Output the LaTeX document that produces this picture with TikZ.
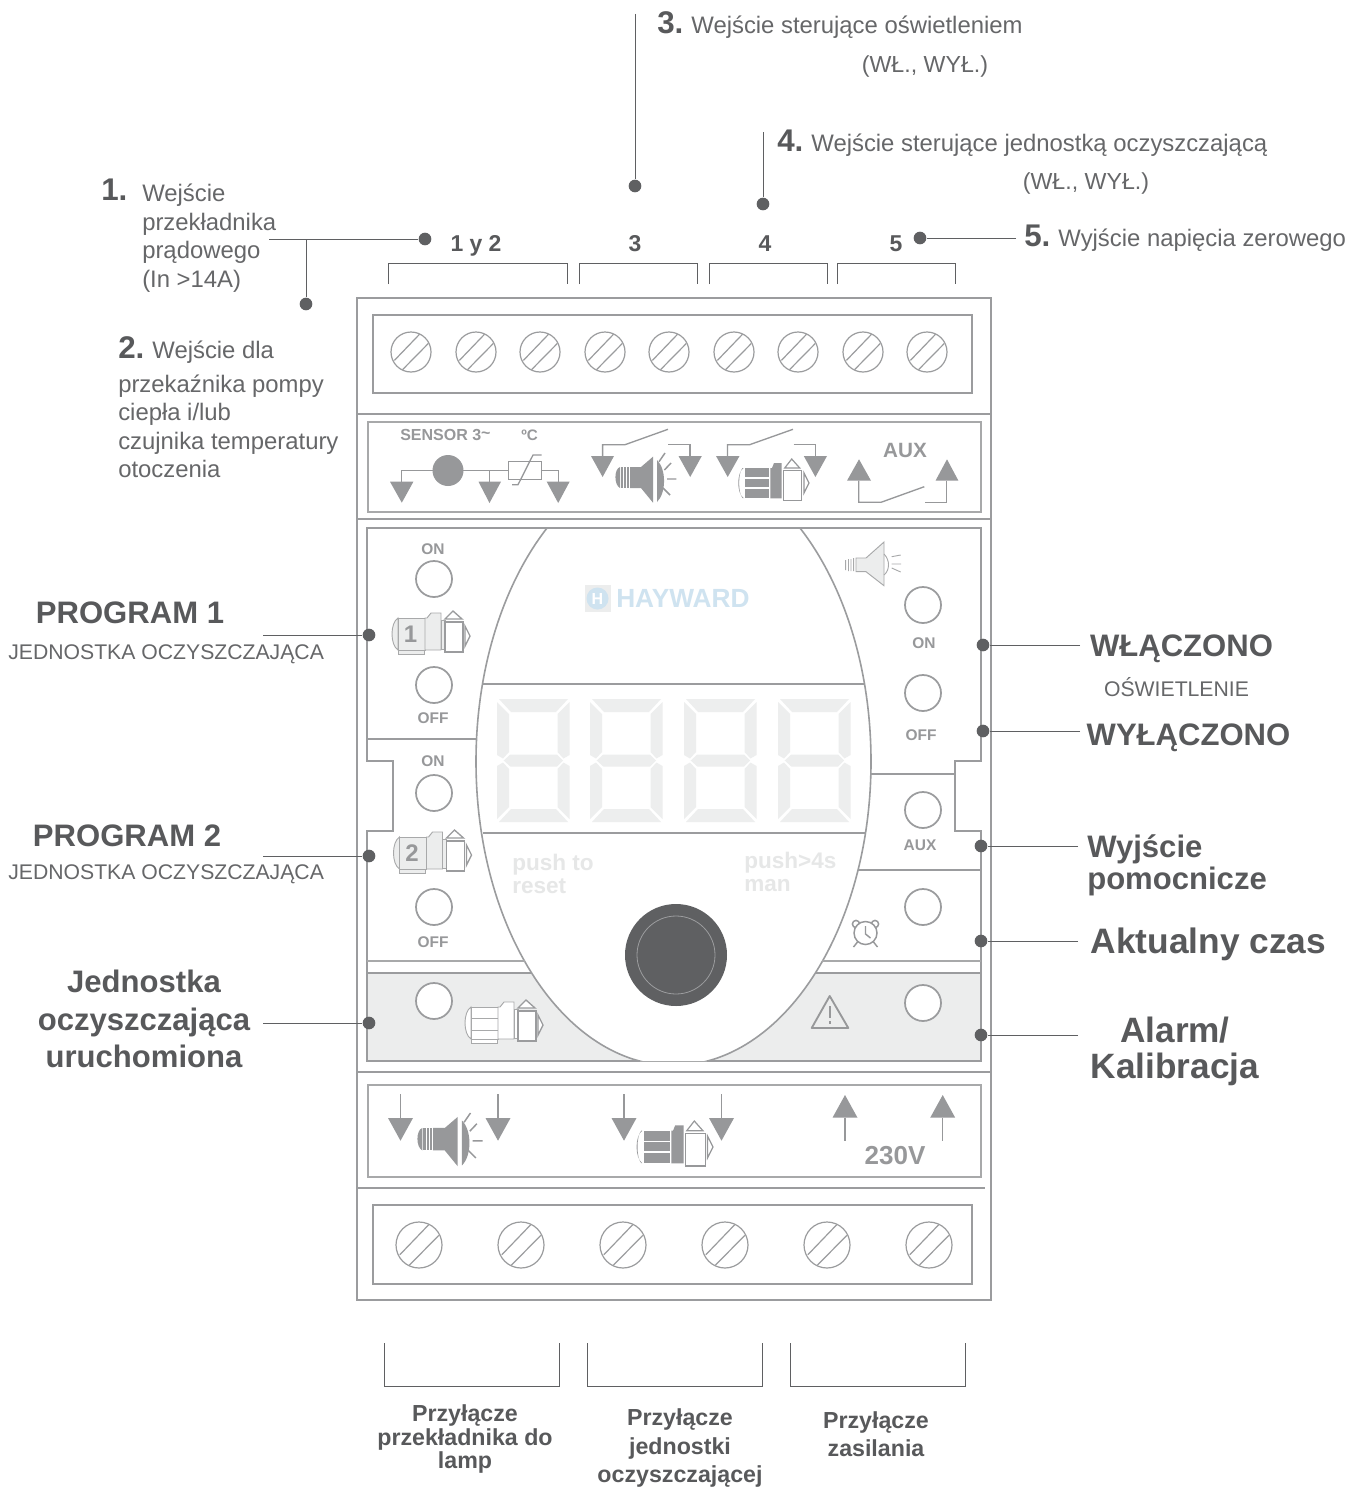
\documentclass[tikz,border=0pt]{standalone}
\usepackage{fontspec}
\setmainfont{Liberation Sans}
\usetikzlibrary{calc}
\definecolor{framec}{HTML}{9B9C9E}
\definecolor{thinc}{HTML}{A8A9AA}
\definecolor{dark}{HTML}{5F6062}
\definecolor{txt}{HTML}{58595B}
\definecolor{txtl}{HTML}{666769}
\definecolor{band}{HTML}{ECEDED}
\definecolor{seg}{HTML}{EDEEEE}
\definecolor{icon}{HTML}{97989A}
\definecolor{logob}{HTML}{CFE3F0}
\definecolor{ghost}{HTML}{E6E7E7}
\tikzset{
 framel/.style={draw=framec,line width=2.1pt},
 panel/.style={draw=thinc,line width=1pt},
 innerl/.style={draw=framec,line width=1.2pt},
 btn/.style={draw=framec,line width=1.3pt},
 scr/.style={draw=framec,line width=0.9pt},
 leader/.style={draw=dark,line width=0.6pt},
 brk/.style={draw=dark,line width=0.5pt},
 dotn/.style={circle,fill=dark,inner sep=0,minimum size=9.5pt},
 wire/.style={draw=icon,line width=1pt},
 headf/.style={fill=icon},
 seglook/.style={fill=seg},
 lab/.style={inner sep=0,text=txt},
 bodyt/.style={lab,text=txtl,font=\fontsize{17.9}{21.4}\selectfont,align=left},
 headt/.style={lab,font=\fontsize{23.3}{28}\selectfont\bfseries,align=center},
 capt/.style={lab,font=\fontsize{17.2}{21}\selectfont\bfseries,align=center},
 sm/.style={inner sep=0,text=icon,font=\fontsize{11.6}{13}\selectfont\bfseries},
 ghosty/.style={inner sep=0,text=ghost,font=\fontsize{16.9}{17.2}\selectfont\bfseries,align=left},
}
\newcommand{\numb}[1]{{\fontsize{23.5}{22}\selectfont\bfseries\color{txt} #1}}
\newcommand{\screw}[3]{%
 \draw[scr] (#1,#2) circle[radius=#3];
 \draw[scr] ($(#1,#2)+(-0.83*#3,0.42*#3)$) -- ($(#1,#2)+(0.42*#3,-0.88*#3)$);
 \draw[scr] ($(#1,#2)+(-0.42*#3,0.88*#3)$) -- ($(#1,#2)+(0.86*#3,-0.42*#3)$);}
\newcommand{\sevenseg}[1]{\begin{scope}[shift={(#1,760.5)}]
 \fill[seglook] (2,-61.5)--(71,-61.5)--(59,-48.5)--(14,-48.5)--cycle;
 \fill[seglook] (2,61.5)--(71,61.5)--(59,48.5)--(14,48.5)--cycle;
 \fill[seglook] (0,-58.5)--(12,-46.5)--(12,-8.5)--(6,-2)--(0,-5.5)--cycle;
 \fill[seglook] (72.5,-58.5)--(60.5,-46.5)--(60.5,-8.5)--(66.5,-2)--(72.5,-5.5)--cycle;
 \fill[seglook] (0,58.5)--(12,46.5)--(12,8.5)--(6,2)--(0,5.5)--cycle;
 \fill[seglook] (72.5,58.5)--(60.5,46.5)--(60.5,8.5)--(66.5,2)--(72.5,5.5)--cycle;
 \fill[seglook] (6.7,0)--(13.3,-6)--(60,-6)--(66,0)--(60,6)--(13.3,6)--cycle;
 \end{scope}}
\newcommand{\lightmotor}[3]{\begin{scope}[shift={(#1,#2)},draw=thinc,line width=0.7pt]
 \draw[fill=#3] (6,7) .. controls (-2,12) and (-2,34) .. (6,39) -- cycle;
 \draw[fill=#3] (6,39) rectangle (32,43);
 \draw[fill=#3] (6,7) rectangle (33,39);
 \draw[fill=#3] (35,7) -- (39,2) -- (49,2) -- (49,39) -- (33,39) -- (33,7) -- cycle;
 \draw[fill=#3] (49,9) rectangle (53,38);
 \draw[fill=white,draw=framec,line width=1pt] (53,11) rectangle (71,41);
 \draw[fill=white,draw=framec,line width=1pt] (53,8) -- (61,0) -- (70,8) -- cycle;
 \draw[fill=white,draw=framec,line width=1pt] (73,15) -- (78,25) -- (73,35) -- cycle;
 \end{scope}}
\newcommand{\darkmotor}[3]{\begin{scope}[shift={(#1,#2)},scale=#3]
 \fill[icon] (5.5,9) .. controls (-1.5,14) and (-1.5,34) .. (5.5,39) -- (4.5,39) .. controls (0,34) and (0,14) .. (4.5,9) -- cycle;
 \fill[icon] (6.7,9) rectangle (30.8,18.2);
 \fill[icon] (6.7,19.8) rectangle (30.8,28.2);
 \fill[icon] (6.7,29.8) rectangle (30.8,39.3);
 \fill[icon] (32.4,39.3) -- (32.4,9) -- (34,9) -- (36,4) -- (43.7,4) -- (43.7,39.3) -- cycle;
 \draw[draw=icon,line width=0.9pt,fill=white] (45.7,11.7) rectangle (63.8,41.7);
 \draw[draw=icon,line width=0.9pt,fill=white] (46.7,9) -- (53.7,0) -- (61.7,9) -- cycle;
 \draw[draw=icon,line width=0.9pt,fill=white] (66,14) -- (71,24) -- (66,34) -- cycle;
 \end{scope}}
\newcommand{\darkspeaker}[3]{\begin{scope}[shift={(#1,#2)},scale=#3]
 \fill[icon] (4.6,14) .. controls (-1.5,16) and (-1.5,32) .. (4.6,35) -- cycle;
 \fill[icon] (5.6,14) rectangle (7.6,35);
 \fill[icon] (8.6,14) rectangle (10.6,35);
 \fill[icon] (11.6,14) rectangle (13.6,35);
 \fill[icon] (14.6,14) -- (25.6,14) -- (37.6,3.7) -- (37.6,49.7) -- (25.6,35) -- (14.6,35) -- cycle;
 \fill[icon] (41.6,7) .. controls (51,16) and (51,40) .. (41.6,49) -- cycle;
 \draw[wire,line width=1.1pt] (43.6,8.7) -- (49.6,0) (49,17) -- (55.6,10) (51.6,26) -- (61,26) (47.6,35) -- (54.6,42);
 \end{scope}}
\begin{document}
\begin{tikzpicture}[x=0.75pt,y=-0.75pt]
\useasboundingbox (0,0) rectangle (1359,1488);
\fill[white] (0,0) rectangle (1359,1488);
% --- housing
\draw[framel] (357,298) rectangle (991,1300);
\draw[framel] (373,315) rectangle (972,393);
\draw[framel] (357,414) -- (991,414);
\draw[framel] (357,519) -- (991,519);
\draw[panel] (368,422) rectangle (981,512);
\draw[framel] (357,1072) -- (991,1072);
\draw[panel] (368,1085) rectangle (981,1177);
\draw[framel] (357,1188) -- (985,1188);
\draw[framel] (373,1205) rectangle (972,1284);
\foreach \sx in {411,476,540,605,669,734,798,863,927} {\screw{\sx}{352}{20}}
\foreach \sx in {419,521,623,725,827,929} {\screw{\sx}{1245}{23}}
% --- front panel
\fill[band] (367,973) rectangle (981,1061);
\begin{scope}
 \clip (367,528) rectangle (981,1061);
 \fill[white] (673.5,761.5) ellipse[x radius=197.5,y radius=304];
 \draw[innerl] (673.5,761.5) ellipse[x radius=197.5,y radius=304];
\end{scope}
\draw[innerl] (548,528) -- (367,528) -- (367,739) -- (367,761) -- (393,761) -- (393,831) -- (367,831) -- (367,1061) -- (640,1061);
\draw[innerl] (799,528) -- (981,528) -- (981,761) -- (955,761) -- (955,831) -- (981,831) -- (981,1061) -- (707,1061);
\draw[innerl] (548,528) -- (799,528);
\draw[thinc,line width=0.5pt] (640,1061) -- (707,1061);
\draw[innerl] (367,739) -- (476,739);
\draw[innerl] (482,684) -- (865,684);
\draw[innerl] (483,833) -- (866,833);
\draw[innerl] (871,774) -- (955,774);
\draw[innerl] (858,870) -- (981,870);
\draw[thinc,line width=0.8pt] (367,961) -- (525,961) (822,961) -- (981,961);
\draw[innerl] (367,973) -- (532,973) (815,973) -- (981,973);
\foreach \bx/\by in {434/579,434/685,434/793,434/907,923/605,923/693,923/810,923/907}
 {\draw[btn] (\bx,\by) circle[radius=18];}
\foreach \bx/\by in {434/1001,923/1003}
 {\draw[btn,fill=white] (\bx,\by) circle[radius=18];}
\foreach \dx in {497,590,684,778} {\sevenseg{\dx}}
% logo
\fill[band] (585,585) rectangle (611,612);
\fill[logob] (597.5,598.5) circle[radius=11];
\node[inner sep=0,text=white,font=\fontsize{12}{12}\selectfont\bfseries] (logoh) at (597.5,598.5) {H};
\node[inner sep=0,anchor=west,text=logob,font=\fontsize{19.7}{20}\selectfont\bfseries] (logo) at (616,598.5) {HAYWARD};
\node[ghosty,anchor=west] (push) at (512,873.5) {push to\\reset};
\node[ghosty,anchor=west] (pushb) at (744,872) {push>4s\\man};
\fill[dark] (676,955) circle[radius=51];
\draw[framec,line width=0.6pt] (676,955) circle[radius=39];
% panel labels
\node[sm] (on1) at (433,549) {ON};
\node[sm] (off1) at (433,718) {OFF};
\node[sm] (on2) at (433,761) {ON};
\node[sm] (off2) at (433,942) {OFF};
\node[sm] (on3) at (924,643) {ON};
\node[sm] (off3) at (921,735) {OFF};
\node[sm] (aux) at (920,845) {AUX};
\lightmotor{392}{611}{band}
\lightmotor{393.5}{830}{band}
\lightmotor{465}{1000}{white}
\draw[thinc,line width=0.7pt] (471,1018) -- (498,1018) (471,1030) -- (498,1030);
\node[inner sep=0,text=icon,font=\fontsize{18}{18}\selectfont\bfseries] (n1) at (410.5,634) {1};
\node[inner sep=0,text=icon,font=\fontsize{18}{18}\selectfont\bfseries] (n2) at (412,853) {2};
% light speaker
\draw[thinc,line width=0.7pt,fill=band] (856,558) -- (866,558) -- (884,542) -- (884,585.7) -- (866,571.7) -- (856,571.7) -- cycle;
\draw[thinc,line width=0.7pt] (845.7,560) -- (845.7,570) (848.5,559) -- (848.5,571) (851,559) -- (851,571) (853.7,558) -- (853.7,571)
 (884,554) .. controls (890,560) and (890,570) .. (884,575)
 (891.7,556.7) -- (900.7,555) (891.7,564) -- (901,564) (891.7,568) -- (900.7,572);
% clock
\draw[icon,line width=1.1pt] (856,924) circle[radius=3.6];
\draw[icon,line width=1.1pt] (875,924) circle[radius=3.6];
\draw[icon,line width=1.1pt,fill=white] (865.5,933) circle[radius=11.5];
\draw[icon,line width=1.1pt] (865.5,926) -- (865.5,934) -- (870.5,938);
\draw[icon,line width=1.1pt] (857.5,942) -- (853.5,947) (873.5,942) -- (877.5,947);
% warning
\draw[icon,line width=1.4pt,line join=round,fill=band] (829.7,996) -- (848.3,1028) -- (811.7,1028) -- cycle;
\fill[icon] (828.6,1006) rectangle (830.8,1018);
\fill[icon] (828.6,1020.5) rectangle (830.8,1023.5);
% --- top legend
\node[sm,anchor=west,font=\fontsize{12}{12}\selectfont\bfseries] (sens) at (400,435) {SENSOR 3\raisebox{0.2ex}{\textasciitilde}};
\node[sm,anchor=west,font=\fontsize{11.4}{12}\selectfont\bfseries] (degc) at (521,435) {ºC};
\fill[headf] (390,481.7) -- (413.4,481.7) -- (401.8,502.7) -- cycle;
\fill[headf] (478.5,481.7) -- (501,481.7) -- (489.5,503) -- cycle;
\fill[headf] (546.7,481.7) -- (569.6,481.7) -- (558.2,503) -- cycle;
\draw[wire] (401.8,481.7) -- (401.8,470.7) -- (508.6,470.7);
\fill[icon] (448,470.5) circle[radius=15.5];
\draw[wire] (489.3,470.7) -- (489.3,481.7);
\draw[wire] (508.6,461.7) rectangle (541.5,479.3);
\draw[wire] (512,484.7) -- (518,484.7) -- (533,455) -- (541.5,455);
\draw[wire] (541.5,470.7) -- (558.4,470.7) -- (558.4,481.7);
\fill[headf] (591,456) -- (614,456) -- (602.6,477) -- cycle;
\fill[headf] (678.5,456) -- (701.8,456) -- (690.2,477) -- cycle;
\draw[wire] (602.6,456) -- (602.6,444.7) -- (625,444.7) -- (668,429.3);
\draw[wire] (668.4,444.7) -- (690,444.7) -- (690,456);
\darkspeaker{615.4}{453}{1}
\fill[headf] (716,456) -- (739.5,456) -- (727.7,477) -- cycle;
\fill[headf] (803.8,456) -- (827,456) -- (815.4,477) -- cycle;
\draw[wire] (727.5,456) -- (727.5,444.7) -- (749.6,444.7) -- (793,429.3);
\draw[wire] (793.7,444.7) -- (815.8,444.7) -- (815.8,456);
\darkmotor{738}{459}{1}
\fill[headf] (847,480.7) -- (871,480.7) -- (859,459.3) -- cycle;
\fill[headf] (935.5,480.7) -- (958.4,480.7) -- (947,459.3) -- cycle;
\draw[wire] (858.8,480.7) -- (858.8,502.3) -- (881,502.3) -- (924.3,486.7);
\draw[wire] (925,502.3) -- (946.7,502.3) -- (946.7,480.7);
\node[inner sep=0,text=icon,font=\fontsize{15.5}{16}\selectfont\bfseries] (auxb) at (905,450) {AUX};
% --- bottom legend
\foreach \ax in {400.5,498,624,721.5} {
 \fill[headf] (\ax-12.5,1118) -- (\ax+12.5,1118) -- (\ax,1140.7) -- cycle;
 \draw[wire] (\ax,1094) -- (\ax,1118);
}
\foreach \ax in {845,942.7} {
 \fill[headf] (\ax-12.5,1117.7) -- (\ax+12.5,1117.7) -- (\ax,1095) -- cycle;
 \draw[wire] (\ax,1117.7) -- (\ax,1140.7);
}
\darkspeaker{417.4}{1113}{1.07}
\darkmotor{636.3}{1121}{1.08}
\node[inner sep=0,text=icon,font=\fontsize{19.5}{20}\selectfont\bfseries] (v230) at (895,1156) {230V};
% --- dots and leaders
\coordinate (l1) at (269,239);
\coordinate (l2) at (306,239);
\coordinate (l3) at (635,14);
\coordinate (l4) at (763,132);
\coordinate (l5) at (1016,238);
\coordinate (lp1) at (263,635);
\coordinate (lp2) at (263,856);
\coordinate (lj) at (263,1023);
\coordinate (lon) at (1080,645);
\coordinate (loff) at (1080,731);
\coordinate (lw) at (1078,846);
\coordinate (lc) at (1078,941);
\coordinate (la) at (1078,1035);
\node[dotn] (d1) at (425,239) {};
\node[dotn] (d2) at (306,304) {};
\node[dotn] (d3) at (635,186) {};
\node[dotn] (d4) at (763,204) {};
\node[dotn] (d5) at (920,238) {};
\node[dotn] (dp1) at (369,635) {};
\node[dotn] (dp2) at (369,856) {};
\node[dotn] (dj) at (369,1023) {};
\node[dotn] (don) at (983,645) {};
\node[dotn] (doff) at (983,731) {};
\node[dotn] (dw) at (981,846) {};
\node[dotn] (dc) at (981,941) {};
\node[dotn] (da) at (981,1035) {};
\foreach \pa/\pb in {l1/d1,l2/d2,l3/d3,l4/d4,l5/d5,lp1/dp1,lp2/dp2,lj/dj,lon/don,loff/doff,lw/dw,lc/dc,la/da}
 {\draw[leader] (\pa) -- (\pb);}
% --- brackets
\draw[brk] (388,284) -- (388,263) -- (567,263) -- (567,284);
\draw[brk] (579,284) -- (579,263) -- (697,263) -- (697,284);
\draw[brk] (709,284) -- (709,263) -- (827,263) -- (827,284);
\draw[brk] (837,284) -- (837,263) -- (955,263) -- (955,284);
\draw[brk] (384,1343) -- (384,1386) -- (559,1386) -- (559,1343);
\draw[brk] (587,1343) -- (587,1386) -- (762,1386) -- (762,1343);
\draw[brk] (790,1343) -- (790,1386) -- (965,1386) -- (965,1343);
% --- texts
\node[bodyt,anchor=base west] (t3) at (657,34) {\numb{3.}\hspace{6pt}Wejście sterujące oświetleniem};
\node[bodyt,anchor=base,font=\fontsize{17.4}{21}\selectfont] (t3b) at (925,73) {(WŁ., WYŁ.)};
\node[bodyt,anchor=base west] (t4) at (777,151) {\numb{4.}\hspace{6pt}Wejście sterujące jednostką oczyszczającą};
\node[bodyt,anchor=base,font=\fontsize{17.4}{21}\selectfont] (t4b) at (1086,189) {(WŁ., WYŁ.)};
\node[bodyt,anchor=base west] (t5) at (1024,246) {\numb{5.}\hspace{6pt}Wyjście napięcia zerowego};
\node[bodyt,anchor=base west] (t1n) at (101,200) {\numb{1.}};
\node[bodyt,anchor=west] (t1) at (142,238) {Wejście\\przekładnika\\prądowego\\(In >14A)};
\node[bodyt,anchor=base west] (t2n) at (118,358) {\numb{2.}\hspace{6pt}Wejście dla};
\node[bodyt,anchor=west] (t2) at (118,426.5) {przekaźnika pompy\\ciepła i/lub\\czujnika temperatury\\otoczenia};
\node[capt,anchor=base] (c12) at (476,251) {1 y 2};
\node[capt,anchor=base] (c3) at (635,251) {3};
\node[capt,anchor=base] (c4) at (765,251) {4};
\node[capt,anchor=base] (c5) at (896,251) {5};
\node[headt,anchor=base] (p1) at (130,623) {PROGRAM 1};
\node[bodyt,anchor=base west,font=\fontsize{15.9}{19}\selectfont] (j1) at (8,659) {JEDNOSTKA OCZYSZCZAJĄCA};
\node[headt,anchor=base] (p2) at (127,846) {PROGRAM 2};
\node[bodyt,anchor=base west,font=\fontsize{15.9}{19}\selectfont] (j2) at (8,879) {JEDNOSTKA OCZYSZCZAJĄCA};
\node[headt] (jou) at (144,1019) {Jednostka\\oczyszczająca\\uruchomiona};
\node[headt,anchor=base] (won) at (1181.5,656) {WŁĄCZONO};
\node[bodyt,anchor=base,font=\fontsize{15.9}{18}\selectfont] (osw) at (1176.5,696) {OŚWIETLENIE};
\node[headt,anchor=base] (woff) at (1188.5,745) {WYŁĄCZONO};
\node[headt,anchor=west,align=left,font=\fontsize{23.3}{24.2}\selectfont\bfseries] (wyj) at (1087,865) {Wyjście\\pomocnicze};
\node[headt,anchor=base,font=\fontsize{26.5}{28}\selectfont\bfseries] (akt) at (1208.5,953) {Aktualny czas};
\node[headt,font=\fontsize{26.4}{27}\selectfont\bfseries] (ala) at (1175,1051) {Alarm/\\Kalibracja};
\node[capt,font=\fontsize{17.4}{17.8}\selectfont\bfseries] (pa) at (465,1439) {Przyłącze\\przekładnika do\\lamp};
\node[capt,font=\fontsize{17.4}{21.5}\selectfont\bfseries] (pb) at (680,1448) {Przyłącze\\jednostki\\oczyszczającej};
\node[capt,font=\fontsize{17.4}{21}\selectfont\bfseries] (pc) at (876,1434) {Przyłącze\\zasilania};
\end{tikzpicture}
\end{document}
